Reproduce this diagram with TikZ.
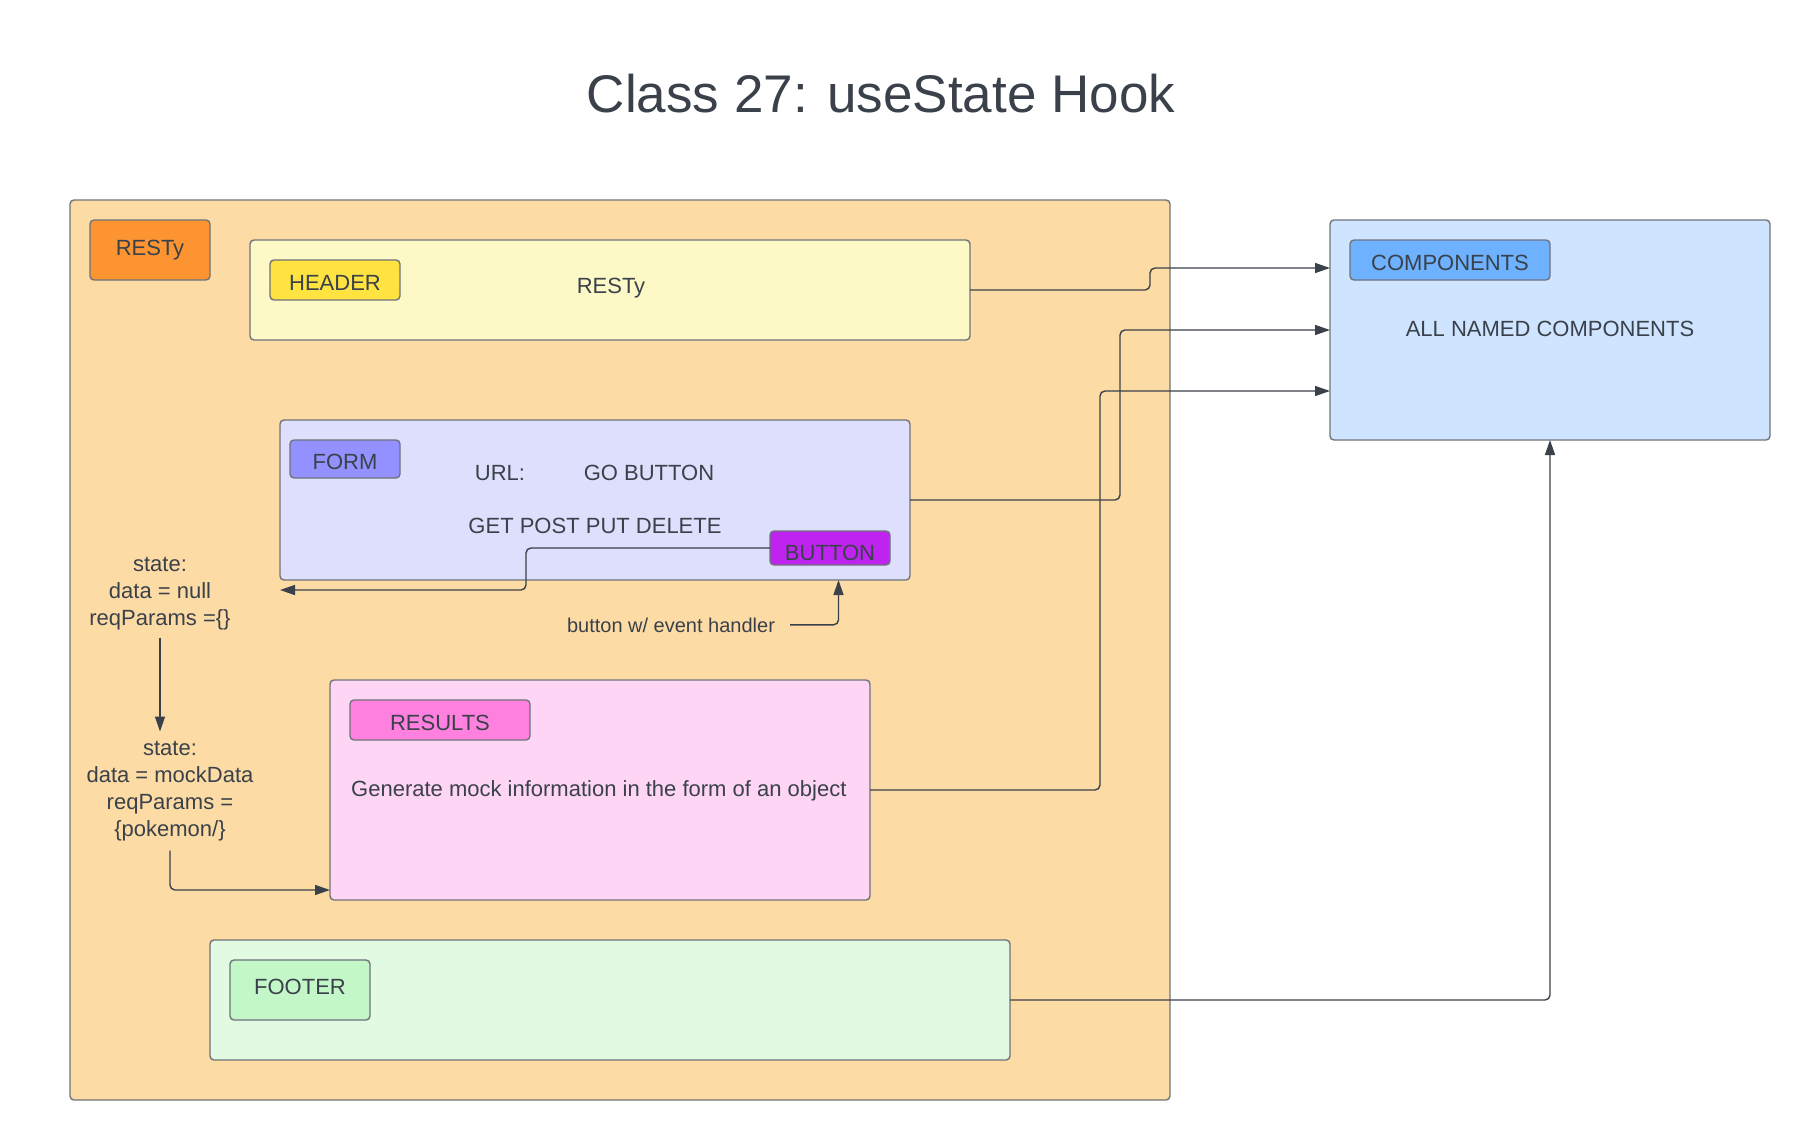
\documentclass[tikz,border=0pt]{standalone}
\usepackage{fontspec}
\setmainfont{Liberation Sans}
\usetikzlibrary{arrows.meta}
\definecolor{ink}{HTML}{3A414A}
\definecolor{edge}{HTML}{6F737A}
\definecolor{restybg}{HTML}{FDDBA5}
\definecolor{restytag}{HTML}{FC9432}
\definecolor{headbg}{HTML}{FCF9C7}
\definecolor{headtag}{HTML}{FFE340}
\definecolor{formbg}{HTML}{DEDFFC}
\definecolor{formtag}{HTML}{9391FF}
\definecolor{btntag}{HTML}{BE23F0}
\definecolor{resbg}{HTML}{FFD5F5}
\definecolor{restag}{HTML}{FF80DF}
\definecolor{footbg}{HTML}{E2FAE2}
\definecolor{foottag}{HTML}{C3F7C8}
\definecolor{compbg}{HTML}{CFE4FF}
\definecolor{comptag}{HTML}{6DB1FF}
\tikzset{
  box/.style={draw=edge,line width=1.4pt,rounded corners=4pt,inner sep=0pt,outer sep=0pt,
    anchor=north west,text=ink,font=\fontsize{22}{26}\selectfont},
  tag/.style={box,text height=20pt,text depth=0pt},
  txt/.style={text=ink,font=\fontsize{22}{27}\selectfont,inner sep=0pt,align=center}
}
\begin{document}
\begin{tikzpicture}[x=1pt,y=-1pt,>={Triangle[length=15pt,width=10pt]},
    conn/.style={draw=ink,line width=1.4pt,rounded corners=5pt}]
  \useasboundingbox (0,0) rectangle (1810,1140);
  \node[txt,anchor=base,font=\fontsize{53}{60}\selectfont] (title) at (881,112) {Class 27: useState Hook};
  \node[box,fill=restybg,minimum width=1100pt,minimum height=900pt] (resty) at (70,200) {};
  \node[box,fill=restytag,minimum width=120pt,minimum height=60pt] (restytag) at (90,220) {RESTy};
  \node[box,fill=headbg,minimum width=720pt,minimum height=100pt] (header) at (250,240) {};
  \node[tag,fill=headtag,minimum width=130pt,minimum height=40pt] (headtag) at (270,260) {HEADER};
  \node[txt,anchor=base] (headtxt) at (611,293) {RESTy};
  \node[box,fill=formbg,minimum width=630pt,minimum height=160pt] (form) at (280,420) {};
  \node[tag,fill=formtag,minimum width=110pt,minimum height=38pt] (formtag) at (290,440) {FORM};
  \node[txt,anchor=base] (url) at (500,480) {URL:};
  \node[txt,anchor=base] (go) at (649,480) {GO BUTTON};
  \node[txt,anchor=base] (methods) at (595,533) {GET POST PUT DELETE};
  \node[box,fill=btntag,minimum width=120pt,minimum height=34pt,text height=26pt] (button) at (770,531) {BUTTON};
  \node[box,fill=resbg,minimum width=540pt,minimum height=220pt] (results) at (330,680) {};
  \node[tag,fill=restag,minimum width=180pt,minimum height=40pt] (restag) at (350,700) {RESULTS};
  \node[txt,anchor=base west] (gen) at (351,796) {Generate mock information in the form of an object};
  \node[box,fill=footbg,minimum width=800pt,minimum height=120pt] (footer) at (210,940) {};
  \node[box,fill=foottag,minimum width=140pt,minimum height=60pt,text height=8pt,text depth=0pt] (foottag) at (230,960) {FOOTER};
  \node[box,fill=compbg,minimum width=440pt,minimum height=220pt] (comps) at (1330,220) {};
  \node[tag,fill=comptag,minimum width=200pt,minimum height=40pt] (comptag) at (1350,240) {COMPONENTS};
  \node[txt,anchor=base] (allnamed) at (1550,336) {ALL NAMED COMPONENTS};
  \node[txt,anchor=north] (state1) at (160,557.5) {state:\\data = null\\reqParams =\{\}};
  \node[txt,anchor=north] (state2) at (170,741.5) {state:\\data = mockData\\reqParams =\\\{pokemon/\}};
  \node[txt,anchor=base,font=\fontsize{20}{24}\selectfont] (handler) at (671,632) {button w/ event handler};
  \coordinate (stin) at ([yshift=-10pt]form.south west);
  \coordinate (btnin) at (button.south |- form.south);
  \draw[conn,->] (header.east) -- ++(180,0) |- ([yshift=62pt]comps.west);
  \draw[conn,->] (form.east) -- ++(210,0) |- (comps.west);
  \draw[conn,->] (results.east) -- ++(230,0) |- ([yshift=-61pt]comps.west);
  \draw[conn,->] (footer.east) -| (comps.south);
  \draw[conn,->] (button.west) -- ++(-244,0) |- (stin);
  \draw[conn,->] ([xshift=15pt]handler.east) -| ([xshift=8.5pt]btnin);
  \draw[conn,->] ([yshift=-7pt]state1.south) -- ([yshift=10pt]state1.south |- state2.north);
  \draw[conn,->] ([yshift=-9pt]state2.south) |- ([yshift=10pt]results.south west);
\end{tikzpicture}
\end{document}
